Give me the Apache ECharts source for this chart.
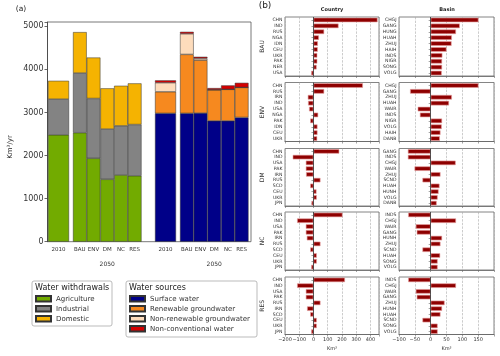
<!DOCTYPE html>
<html>
<head>
<meta charset="utf-8">
<script src="https://cdn.jsdelivr.net/npm/echarts@6/dist/echarts.min.js"></script>
<style>
html, body { margin: 0; padding: 0; background: #fff; }
#main { width: 500px; height: 356px; }
</style>
</head>
<body>
<div id="main"></div>
<script>
var scenarios = ['BAU', 'ENV', 'DM', 'NC', 'RES'];
var baseYear = ['2010'];

// (a) water withdrawals, km3/yr
var agri2010 = [2480];
var indu2010 = [830];
var dome2010 = [425];
var agri2050 = [2530, 1935, 1448, 1548, 1530];
var indu2050 = [1385, 1390, 1167, 1142, 1190];
var dome2050 = [950, 950, 945, 930, 955];

// (a) water sources, km3/yr
var surf2010 = [2980];
var rgw2010 = [500];
var nrgw2010 = [210];
var ncw2010 = [55];
var surf2050 = [2980, 2985, 2805, 2805, 2885];
var rgw2050 = [1368, 1230, 721, 731, 696];
var nrgw2050 = [478, 40, 0, 0, 0];
var ncw2050 = [46, 37, 40, 92, 107];

// (b) change by country, km3
var countryBAU = ['CHN', 'IND', 'RUS', 'NGA', 'IDN', 'CEU', 'UKR', 'PAK', 'NER', 'USA'];
var countryBAUVal = [450, 176, 75, 38, 31, 30, 27, 27, 22, -16];
var countryENV = ['CHN', 'RUS', 'IRN', 'IND', 'USA', 'NGA', 'PAK', 'IDN', 'CEU', 'UKR'];
var countryENVVal = [347, 75, -40, -38, -31, 33, -23, 28, 28, 26];
var countryDM = ['CHN', 'IND', 'USA', 'PAK', 'IRN', 'RUS', 'SCD', 'CEU', 'UKR', 'JPN'];
var countryDMVal = [181, -146, -54, -54, -52, 49, -23, 21, 23, -14];
var countryNC = ['CHN', 'IND', 'USA', 'PAK', 'IRN', 'RUS', 'SCD', 'CEU', 'UKR', 'JPN'];
var countryNCVal = [204, -115, -54, -54, -47, 49, -23, 23, 23, -16];
var countryRES = ['CHN', 'IND', 'USA', 'PAK', 'RUS', 'IRN', 'SCD', 'CEU', 'UKR', 'JPN'];
var countryRESVal = [221, -115, -54, -54, 49, -45, -23, 23, 23, -16];

// (b) change by basin, km3
var basinBAU = ['CHGJ', 'GANG', 'HUNG', 'HUAH', 'ZHUJ', 'HAIH', 'INDS', 'NIGR', 'SONG', 'VOLG'];
var basinBAUVal = [151, 92, 80, 67, 66, 50, 37, 36, 36, 35];
var basinENV = ['CHGJ', 'GANG', 'ZHUJ', 'HUAH', 'WAIR', 'INDS', 'NIGR', 'VOLG', 'HAIH', 'DANB'];
var basinENVVal = [151, -65, 67, 58, -41, -34, 36, 35, 31, 29];
var basinDM = ['GANG', 'INDS', 'CHGJ', 'WAIR', 'ZHUJ', 'SCND', 'HUAH', 'HUNH', 'VOLG', 'DANB'];
var basinDMVal = [-72, -72, 79, -51, 31, -26, 28, 25, 22, 19];
var basinNC = ['INDS', 'CHGJ', 'WAIR', 'GANG', 'HUNH', 'ZHUJ', 'SCND', 'HUAH', 'SONG', 'VOLG'];
var basinNCVal = [-71, 80, -47, -44, 36, 31, -26, 30, 22, 22];
var basinRES = ['INDS', 'CHGJ', 'WAIR', 'GANG', 'ZHUJ', 'HUNH', 'HUAH', 'SCND', 'SONG', 'VOLG'];
var basinRESVal = [-71, 80, -47, -44, 44, 36, 31, -26, 22, 22];

var FONT = 'DejaVu Sans';
var useNames = ['Agriculture', 'Industrial', 'Domestic'];
var useColors = ['#72ab00', '#838383', '#f5b301'];
var srcNames = ['Surface water', 'Renewable groundwater', 'Non-renewable groundwater', 'Non-conventional water'];
var srcColors = ['#000088', '#f6891f', '#fddcbc', '#d40000'];

var grids = [], xAxes = [], yAxes = [], series = [], graphics = [];

// panel (a) frame + y axis
grids.push({ left: 47.5, top: 22, width: 203.5, height: 219.7, show: true, borderColor: '#555', borderWidth: 0.8 });
xAxes.push({ gridIndex: 0, type: 'value', show: false, min: 0, max: 1 });
yAxes.push({
    gridIndex: 0, type: 'value', min: 0, max: 5100, interval: 1000,
    axisLine: { show: true, lineStyle: { color: '#444', width: 0.8 } },
    axisTick: { show: true, length: 3, lineStyle: { color: '#444', width: 0.8 } },
    axisLabel: { fontSize: 8, color: '#333', fontFamily: FONT, margin: 4,
        formatter: function (v) { return v % 1000 === 0 ? v : ''; } },
    splitLine: { show: false }
});

var blocks = [
    { left: 48, width: 21, cats: baseYear, name: '', names: useNames, colors: useColors, data: [agri2010, indu2010, dome2010] },
    { left: 73, width: 68.5, cats: scenarios, name: '2050', names: useNames, colors: useColors, data: [agri2050, indu2050, dome2050] },
    { left: 155, width: 21, cats: baseYear, name: '', names: srcNames, colors: srcColors, data: [surf2010, rgw2010, nrgw2010, ncw2010] },
    { left: 180, width: 68.5, cats: scenarios, name: '2050', names: srcNames, colors: srcColors, data: [surf2050, rgw2050, nrgw2050, ncw2050] }
];

blocks.forEach(function (b, i) {
    var gi = grids.length;
    grids.push({ left: b.left, top: 22, width: b.width, height: 219.7 });
    xAxes.push({
        gridIndex: gi, type: 'category', data: b.cats,
        axisLine: { show: false }, axisTick: { show: false },
        axisLabel: { fontSize: 5.5, color: '#333', fontFamily: FONT, margin: 5, interval: 0 },
        name: b.name, nameLocation: 'middle', nameGap: 20,
        nameTextStyle: { fontSize: 6, color: '#333', fontFamily: FONT }
    });
    yAxes.push({ gridIndex: gi, type: 'value', min: 0, max: 5100, show: false });
    b.data.forEach(function (vals, k) {
        series.push({
            type: 'bar', name: b.names[k], stack: 'st' + i,
            xAxisIndex: gi, yAxisIndex: gi, data: vals,
            barCategoryGap: '0%',
            itemStyle: { color: b.colors[k], borderColor: '#333', borderWidth: 0.5 }
        });
    });
});

// panel (b)
var countryCats = [countryBAU, countryENV, countryDM, countryNC, countryRES];
var countryVals = [countryBAUVal, countryENVVal, countryDMVal, countryNCVal, countryRESVal];
var basinCats = [basinBAU, basinENV, basinDM, basinNC, basinRES];
var basinVals = [basinBAUVal, basinENVVal, basinDMVal, basinNCVal, basinRESVal];
var rowTop = [17, 82.5, 148.5, 212, 277];
var rowH = [59, 59, 57.5, 58, 57.5];
var cols = [
    { left: 285, width: 94, min: -200, max: 460, interval: 100, cats: countryCats, vals: countryVals },
    { left: 399, width: 95, min: -100, max: 200, interval: 50, cats: basinCats, vals: basinVals }
];

for (var r = 0; r < 5; r++) {
    cols.forEach(function (c, ci) {
        var gi = grids.length;
        var last = r === 4;
        grids.push({ left: c.left, top: rowTop[r], width: c.width, height: rowH[r], show: true, borderColor: '#666', borderWidth: 0.8 });
        xAxes.push({
            gridIndex: gi, type: 'value', min: c.min, max: c.max, interval: c.interval,
            axisLine: { show: true, lineStyle: { color: '#666', width: 0.8 } },
            axisTick: { show: true, length: 2, lineStyle: { color: '#666', width: 0.6 } },
            axisLabel: { show: last, fontSize: 5, color: '#333', fontFamily: FONT, margin: 3,
                formatter: (function (c) { return function (v) {
                    if (v % c.interval !== 0 || v >= 200 && c.interval === 50) return '';
                    return v < 0 ? '\u2212' + Math.abs(v) : v;
                }; })(c) },
            splitLine: { show: true, lineStyle: { color: '#aaa', type: 'dashed', width: 0.6 } },
            name: last ? 'Km³' : '', nameLocation: 'middle', nameGap: 12,
            nameTextStyle: { fontSize: 5, color: '#333', fontFamily: FONT }
        });
        yAxes.push({
            gridIndex: gi, type: 'category', inverse: true, data: c.cats[r],
            axisLine: { show: false },
            axisTick: { show: true, length: 2, alignWithLabel: true, lineStyle: { color: '#666', width: 0.6 } },
            axisLabel: { fontSize: 4.6, color: '#333', fontFamily: FONT, margin: 2.5, interval: 0 }
        });
        series.push({
            type: 'bar', xAxisIndex: gi, yAxisIndex: gi, data: c.vals[r], barWidth: '78%',
            itemStyle: { color: '#8e0000', borderColor: '#e8a0a0', borderWidth: 0.6 },
            markLine: {
                silent: true, symbol: ['none', 'none'], label: { show: false },
                lineStyle: { color: '#333', type: 'solid', width: 0.8 },
                data: [{ xAxis: 0 }]
            }
        });
    });
    graphics.push({
        type: 'text', x: 262, y: rowTop[r] + rowH[r] / 2, rotation: Math.PI / 2,
        style: { text: scenarios[r], fontSize: 6, fill: '#333', fontFamily: FONT,
            align: 'center', verticalAlign: 'middle', textAlign: 'center', textVerticalAlign: 'middle' }
    });
}

function label(txt, x, y, size, opts) {
    var s = { text: txt, fontSize: size, fill: '#222', fontFamily: FONT,
        align: 'center', verticalAlign: 'middle', textAlign: 'center', textVerticalAlign: 'middle' };
    for (var k in (opts || {})) s[k] = opts[k];
    return { type: 'text', x: x, y: y, style: s };
}

graphics.push(label('(a)', 21, 9, 7.5));
graphics.push(label('(b)', 265, 6, 9));
graphics.push(label('Country', 332, 10, 5, { fontWeight: 'bold' }));
graphics.push(label('Basin', 447, 10, 5, { fontWeight: 'bold' }));
var yl = label('Km³/yr', 10, 147, 7);
yl.rotation = Math.PI / 2;
graphics.push(yl);

// legend boxes
graphics.push({ type: 'rect', shape: { x: 32, y: 281, width: 80, height: 45, r: 2 }, style: { fill: 'none', stroke: '#aaa', lineWidth: 0.8 } });
graphics.push(label('Water withdrawals', 35, 288, 8, { align: 'left', textAlign: 'left' }));
graphics.push({ type: 'rect', shape: { x: 126, y: 281, width: 131, height: 56, r: 2 }, style: { fill: 'none', stroke: '#aaa', lineWidth: 0.8 } });
graphics.push(label('Water sources', 129, 288, 8, { align: 'left', textAlign: 'left' }));

var option = {
    animation: false,
    backgroundColor: '#fff',
    textStyle: { fontFamily: FONT },
    grid: grids,
    xAxis: xAxes,
    yAxis: yAxes,
    series: series,
    graphic: graphics,
    legend: [
        { data: useNames, left: 35, top: 295, orient: 'vertical', icon: 'rect',
          itemWidth: 15, itemHeight: 5.5, itemGap: 2.5, padding: 0,
          textStyle: { fontSize: 7, color: '#333', fontFamily: FONT } },
        { data: srcNames, left: 129, top: 295, orient: 'vertical', icon: 'rect',
          itemWidth: 15, itemHeight: 5.5, itemGap: 2.5, padding: 0,
          textStyle: { fontSize: 7, color: '#333', fontFamily: FONT } }
    ]
};

var chart = echarts.init(document.getElementById('main'));
chart.setOption(option);
</script>
</body>
</html>
